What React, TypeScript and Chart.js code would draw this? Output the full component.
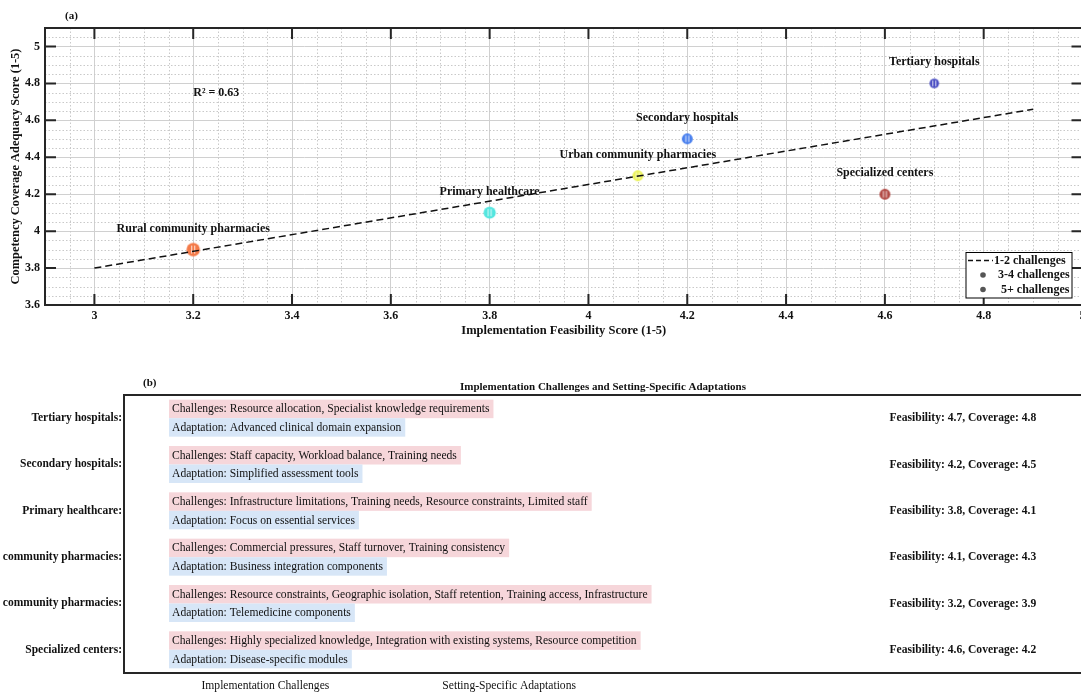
import React, { useEffect, useRef } from 'react';
import { Chart, registerables } from 'chart.js';

Chart.register(...registerables);

// ---- data ----
const settings = [
  'Tertiary hospitals',
  'Secondary hospitals',
  'Primary healthcare',
  'Urban community pharmacies',
  'Rural community pharmacies',
  'Specialized centers',
];
const feasibility = [4.7, 4.2, 3.8, 4.1, 3.2, 4.6];
const coverage = [4.8, 4.5, 4.1, 4.3, 3.9, 4.2];
const challenges = [
  ['Resource allocation', 'Specialist knowledge requirements'],
  ['Staff capacity', 'Workload balance', 'Training needs'],
  ['Infrastructure limitations', 'Training needs', 'Resource constraints', 'Limited staff'],
  ['Commercial pressures', 'Staff turnover', 'Training consistency'],
  ['Resource constraints', 'Geographic isolation', 'Staff retention', 'Training access', 'Infrastructure'],
  ['Highly specialized knowledge', 'Integration with existing systems', 'Resource competition'],
];
const adaptations = [
  'Advanced clinical domain expansion',
  'Simplified assessment tools',
  'Focus on essential services',
  'Business integration components',
  'Telemedicine components',
  'Disease-specific modules',
];
const trendX = [3.0, 4.9];
const trendY = [3.8, 4.66];
const rSquared = 0.63;
const xTicks = [3, 3.2, 3.4, 3.6, 3.8, 4, 4.2, 4.4, 4.6, 4.8, 5];
const yTicks = [3.6, 3.8, 4, 4.2, 4.4, 4.6, 4.8, 5];
const legendLabels = ['1-2 challenges', '3-4 challenges', '5+ challenges'];
const panelBColumns = ['Implementation Challenges', 'Setting-Specific Adaptations'];

// ---- styles ----
const markerColors = ['#4B4FC4', '#4A80EE', '#52E6DF', '#EAF25A', '#F47A48', '#B24B46'];
const SERIF = "'Liberation Serif', 'Times New Roman', serif";
const INK = '#111111';
const PINK = '#F6D6DA';
const BLUE = '#D7E6F7';
const TEXT_B = 11.6;

const fmt = (v: number) => String(Math.round(v * 100) / 100);

// circular marker with light vertical hatching
function makeMarker(color: string, r: number): HTMLCanvasElement {
  const size = Math.ceil(r * 2 + 2);
  const c = document.createElement('canvas');
  c.width = size;
  c.height = size;
  const ctx = c.getContext('2d')!;
  const cx = size / 2;
  const cy = size / 2;
  ctx.beginPath();
  ctx.arc(cx, cy, r, 0, Math.PI * 2);
  ctx.fillStyle = color;
  ctx.fill();
  ctx.save();
  ctx.clip();
  ctx.strokeStyle = 'rgba(255,255,255,0.8)';
  ctx.lineWidth = 1;
  [-1.5, 1.5].forEach((dx) => {
    ctx.beginPath();
    ctx.moveTo(cx + dx, cy - r * 0.6);
    ctx.lineTo(cx + dx, cy + r * 0.6);
    ctx.stroke();
  });
  ctx.restore();
  return c;
}

const panelADecor = {
  id: 'panelADecor',
  beforeDatasetsDraw(chart: any) {
    const { ctx, chartArea: a, scales } = chart;
    const x = scales.x;
    const y = scales.y;
    ctx.save();
    ctx.strokeStyle = '#c9c9c9';
    ctx.lineWidth = 1;
    ctx.setLineDash([1.5, 2]);
    // minor dotted grid every 0.05
    for (let v100 = 295; v100 < 500; v100 += 5) {
      if ((v100 - 300) % 20 === 0) continue;
      const px = Math.round(x.getPixelForValue(v100 / 100)) + 0.5;
      ctx.beginPath();
      ctx.moveTo(px, a.top);
      ctx.lineTo(px, a.bottom);
      ctx.stroke();
    }
    for (let v100 = 365; v100 < 510; v100 += 5) {
      if ((v100 - 360) % 20 === 0) continue;
      const py = Math.round(y.getPixelForValue(v100 / 100)) + 0.5;
      ctx.beginPath();
      ctx.moveTo(a.left, py);
      ctx.lineTo(a.right, py);
      ctx.stroke();
    }
    ctx.restore();
  },
  afterDatasetsDraw(chart: any) {
    const { ctx, chartArea: a, scales } = chart;
    const x = scales.x;
    const y = scales.y;
    ctx.save();
    // point labels
    const meta = chart.getDatasetMeta(1);
    ctx.fillStyle = INK;
    ctx.font = `bold 12px ${SERIF}`;
    ctx.textAlign = 'center';
    ctx.textBaseline = 'middle';
    meta.data.forEach((pt: any, i: number) => {
      ctx.fillText(settings[i], pt.x, pt.y - 21);
    });
    // R² annotation
    ctx.textAlign = 'left';
    ctx.fillText(`R² = ${rSquared.toFixed(2)}`, x.getPixelForValue(3.2), y.getPixelForValue(4.75));
    // frame
    ctx.strokeStyle = '#262626';
    ctx.lineWidth = 2;
    ctx.strokeRect(a.left, a.top, a.right - a.left, a.bottom - a.top);
    // inward major ticks on all sides
    const tl = 11;
    xTicks.forEach((v) => {
      const px = x.getPixelForValue(v);
      ctx.beginPath();
      ctx.moveTo(px, a.bottom);
      ctx.lineTo(px, a.bottom - tl);
      ctx.moveTo(px, a.top);
      ctx.lineTo(px, a.top + tl);
      ctx.stroke();
    });
    yTicks.forEach((v) => {
      const py = y.getPixelForValue(v);
      ctx.beginPath();
      ctx.moveTo(a.left, py);
      ctx.lineTo(a.left + tl, py);
      ctx.moveTo(a.right, py);
      ctx.lineTo(a.right - tl, py);
      ctx.stroke();
    });
    // legend box
    const bw = 106;
    const bh = 45.5;
    const bx = a.right - 10.5 - bw;
    const by = a.bottom - 7 - bh;
    ctx.fillStyle = '#ffffff';
    ctx.fillRect(bx, by, bw, bh);
    ctx.strokeStyle = '#000000';
    ctx.lineWidth = 1;
    ctx.strokeRect(bx, by, bw, bh);
    ctx.font = `bold 12px ${SERIF}`;
    ctx.fillStyle = INK;
    ctx.textAlign = 'left';
    const rows = [by + 8, by + 22.5, by + 37];
    ctx.setLineDash([5, 3]);
    ctx.lineWidth = 1.5;
    ctx.strokeStyle = INK;
    ctx.beginPath();
    ctx.moveTo(bx + 2, rows[0]);
    ctx.lineTo(bx + 27, rows[0]);
    ctx.stroke();
    ctx.setLineDash([]);
    ctx.fillText(legendLabels[0], bx + 28, rows[0]);
    [1, 2].forEach((k) => {
      ctx.fillStyle = '#555555';
      ctx.beginPath();
      ctx.arc(bx + 17, rows[k], 2.8, 0, Math.PI * 2);
      ctx.fill();
      ctx.fillStyle = INK;
      ctx.fillText(legendLabels[k], bx + (k === 1 ? 32 : 35), rows[k]);
    });
    // panel tag
    ctx.font = `bold 11px ${SERIF}`;
    ctx.fillText('(a)', 65, 16);
    ctx.restore();
  },
};

const panelBDecor = {
  id: 'panelBDecor',
  afterDraw(chart: any) {
    const { ctx, chartArea: a, scales } = chart;
    const x = scales.x;
    const y = scales.y;
    ctx.save();
    ctx.textBaseline = 'middle';
    // heading and panel tag
    ctx.fillStyle = INK;
    ctx.font = `bold 11px ${SERIF}`;
    ctx.textAlign = 'center';
    ctx.fillText('Implementation Challenges and Setting-Specific Adaptations', (a.left + a.right) / 2, a.top - 8);
    ctx.textAlign = 'left';
    ctx.fillText('(b)', 143, a.top - 12);
    // rows
    const x0 = x.getPixelForValue(-0.383);
    const xf = x.getPixelForValue(2.56);
    const h = 18.5;
    settings.forEach((_, i) => {
      const ry = y.getPixelForValue(i);
      const cText = 'Challenges: ' + challenges[i].join(', ');
      const aText = 'Adaptation: ' + adaptations[i];
      ctx.font = `${TEXT_B}px ${SERIF}`;
      const cw = ctx.measureText(cText).width;
      const aw = ctx.measureText(aText).width;
      ctx.fillStyle = PINK;
      ctx.fillRect(x0 - 3, ry - h, cw + 7, h);
      ctx.fillStyle = BLUE;
      ctx.fillRect(x0 - 3, ry, aw + 7, h);
      ctx.fillStyle = INK;
      ctx.fillText(cText, x0, ry - h / 2 + 0.5);
      ctx.fillText(aText, x0, ry + h / 2 + 0.5);
      ctx.font = `bold ${TEXT_B}px ${SERIF}`;
      ctx.fillText(`Feasibility: ${feasibility[i]}, Coverage: ${coverage[i]}`, xf, ry);
    });
    // frame
    ctx.strokeStyle = '#262626';
    ctx.lineWidth = 2;
    ctx.strokeRect(a.left, a.top, a.right - a.left, a.bottom - a.top);
    ctx.restore();
  },
};

export default function App() {
  const refA = useRef<HTMLCanvasElement>(null);
  const refB = useRef<HTMLCanvasElement>(null);

  useEffect(() => {
    const markerRadii = challenges.map((c) => 3.5 + 0.65 * c.length);
    const chartA = new Chart(refA.current!, {
      type: 'scatter',
      data: {
        datasets: [
          {
            type: 'line',
            label: legendLabels[0],
            data: trendX.map((v, i) => ({ x: v, y: trendY[i] })),
            borderColor: INK,
            borderWidth: 1.5,
            borderDash: [7, 4],
            pointRadius: 0,
            fill: false,
            order: 0,
          } as any,
          {
            label: 'Settings',
            data: feasibility.map((v, i) => ({ x: v, y: coverage[i] })),
            pointStyle: markerColors.map((c, i) => makeMarker(c, markerRadii[i])) as any,
            backgroundColor: markerColors,
            pointRadius: markerRadii,
            order: 1,
          },
        ],
      },
      options: {
        responsive: false,
        animation: false,
        devicePixelRatio: 1,
        layout: { padding: { top: 28, right: 17.5, left: 0, bottom: 0 } },
        plugins: { legend: { display: false }, tooltip: { enabled: false } },
        scales: {
          x: {
            type: 'linear',
            min: 2.9,
            max: 5.0,
            afterBuildTicks: (s: any) => {
              s.ticks = xTicks.map((v) => ({ value: v }));
            },
            afterFit: (s: any) => {
              s.height = 33;
            },
            grid: { color: '#d0d0d0', lineWidth: 1, drawTicks: false },
            border: { display: false },
            ticks: {
              padding: 4,
              color: INK,
              maxRotation: 0,
              autoSkip: false,
              font: { family: SERIF, weight: 'bold', size: 12 },
              callback: (v: any) => fmt(Number(v)),
            },
            title: {
              display: true,
              text: 'Implementation Feasibility Score (1-5)',
              color: INK,
              font: { family: SERIF, weight: 'bold', size: 12.5 },
              padding: { top: 0, bottom: 0 },
            },
          },
          y: {
            type: 'linear',
            min: 3.6,
            max: 5.1,
            afterBuildTicks: (s: any) => {
              s.ticks = yTicks.map((v) => ({ value: v }));
            },
            afterFit: (s: any) => {
              s.width = 45;
            },
            grid: { color: '#d0d0d0', lineWidth: 1, drawTicks: false },
            border: { display: false },
            ticks: {
              padding: 5,
              color: INK,
              autoSkip: false,
              font: { family: SERIF, weight: 'bold', size: 12 },
              callback: (v: any) => fmt(Number(v)),
            },
            title: {
              display: true,
              text: 'Competency Coverage Adequacy Score (1-5)',
              color: INK,
              font: { family: SERIF, weight: 'bold', size: 12.4 },
              padding: { top: 8, bottom: 0 },
            },
          },
        },
      },
      plugins: [panelADecor],
    });

    const chartB = new Chart(refB.current!, {
      type: 'scatter',
      data: { datasets: [] },
      options: {
        responsive: false,
        animation: false,
        devicePixelRatio: 1,
        layout: { padding: { top: 57, right: 18, left: 0, bottom: 0 } },
        plugins: { legend: { display: false }, tooltip: { enabled: false } },
        scales: {
          x: {
            type: 'linear',
            min: -0.58,
            max: 3.35,
            afterBuildTicks: (s: any) => {
              s.ticks = panelBColumns.map((_, i) => ({ value: i }));
            },
            afterFit: (s: any) => {
              s.height = 20;
            },
            grid: { display: false, drawTicks: false },
            border: { display: false },
            ticks: {
              padding: 6,
              color: INK,
              maxRotation: 0,
              autoSkip: false,
              font: { family: SERIF, size: TEXT_B },
              callback: (_v: any, i: number) => panelBColumns[i],
            },
          },
          y: {
            type: 'category',
            labels: settings,
            offset: true,
            afterFit: (s: any) => {
              s.width = 124;
            },
            grid: { display: false, drawTicks: false },
            border: { display: false },
            ticks: {
              padding: 2,
              color: INK,
              autoSkip: false,
              font: { family: SERIF, weight: 'bold', size: 11.5 },
              callback: (_v: any, i: number) => settings[i] + ':',
            },
          },
        },
      },
      plugins: [panelBDecor],
    });

    return () => {
      chartA.destroy();
      chartB.destroy();
    };
  }, []);

  return (
    <div
      style={{
        position: 'fixed',
        left: 0,
        top: 0,
        width: 1081,
        height: 693,
        overflow: 'hidden',
        background: '#ffffff',
      }}
    >
      <canvas
        ref={refA}
        width={1100}
        height={338}
        style={{ position: 'absolute', left: 0, top: 0, width: 1100, height: 338 }}
      />
      <canvas
        ref={refB}
        width={1100}
        height={355}
        style={{ position: 'absolute', left: 0, top: 338, width: 1100, height: 355 }}
      />
    </div>
  );
}
